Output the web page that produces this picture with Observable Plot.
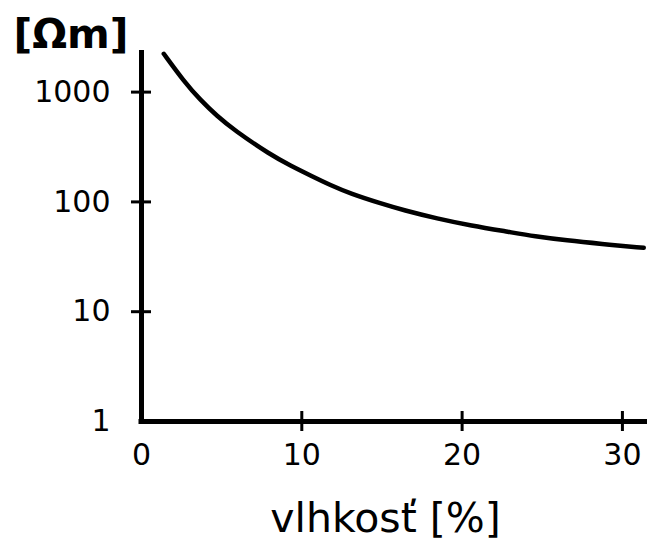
<!DOCTYPE html>
<html>
<head>
<meta charset="utf-8">
<script src="https://cdn.jsdelivr.net/npm/d3@7"></script>
<script src="https://cdn.jsdelivr.net/npm/@observablehq/plot@0.6"></script>
<style>
  html, body { margin: 0; padding: 0; background: white; }
</style>
</head>
<body>
<div id="chart"></div>
<script>
// moisture [%] vs. resistivity [Ωm]
const moisture    = [1.39, 2.64, 3.68, 4.72, 5.76, 8.05, 9.30, 10.54, 11.79, 13.04, 14.91, 16.36, 18.45, 20.52, 23.02, 24.47, 26.56, 28.63, 31.33];
const resistivity = [2234, 1256, 845, 604, 453, 268, 214, 174, 142, 119, 97, 84, 70.5, 61, 53, 48.7, 44.5, 41.5, 38.2];
const xTickValues = [0, 10, 20, 30];
const xTickMarks  = [10, 20, 30];
const yTickValues = [1, 10, 100, 1000];
const yTickMarks  = [10, 100, 1000];
const xLabel = "vlhkosť [%]";
const yLabel = "[Ωm]";

const data = moisture.map((m, i) => ({m, r: resistivity[i]}));

const W = 647, H = 542, mL = 141, mR = 2, mT = 50, mB = 121;
const frameW = W - mL - mR, frameH = H - mT - mB;

const chart = Plot.plot({
  width: W,
  height: H,
  marginLeft: mL,
  marginRight: mR,
  marginTop: mT,
  marginBottom: mB,
  style: {fontFamily: "'DejaVu Sans', Verdana, sans-serif", fontSize: "30px", color: "black", background: "white"},
  x: {domain: [0, 31.44]},
  y: {type: "log", domain: [1, 2393]},
  marks: [
    Plot.axisX(xTickValues, {tickSize: 0, tickPadding: 22, fontSize: 30, tickFormat: d => String(d), label: null}),
    Plot.axisY(yTickValues, {tickSize: 0, tickPadding: 31, fontSize: 30, tickFormat: d => String(d), label: null}),
    Plot.tickX(xTickMarks, {x: d => d, insetTop: frameH - 10, insetBottom: -10, strokeWidth: 3, stroke: "black"}),
    Plot.tickY(yTickMarks, {y: d => d, insetLeft: -10, insetRight: frameW - 10, strokeWidth: 3, stroke: "black"}),
    Plot.ruleX([0], {strokeWidth: 5, stroke: "black"}),
    Plot.ruleY([1], {strokeWidth: 5, stroke: "black", strokeLinecap: "square"}),
    Plot.line(data, {x: "m", y: "r", curve: "basis", strokeWidth: 4.5, stroke: "black"}),
    Plot.text([yLabel], {frameAnchor: "top-left", dx: -128, dy: -3, textAnchor: "start", lineAnchor: "bottom", fontSize: 41, fontWeight: "bold", fill: "black"}),
    Plot.text([xLabel], {frameAnchor: "bottom", dx: -8, dy: 110, textAnchor: "middle", lineAnchor: "bottom", fontSize: 41, fill: "black"})
  ]
});
document.getElementById("chart").appendChild(chart);
</script>
</body>
</html>
